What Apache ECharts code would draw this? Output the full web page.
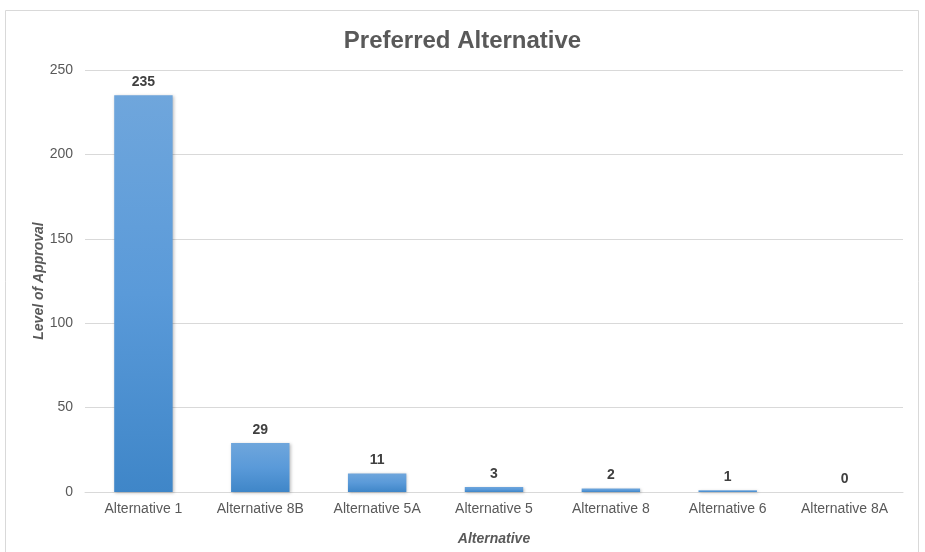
<!DOCTYPE html>
<html><head><meta charset="utf-8">
<script src="https://cdn.jsdelivr.net/npm/echarts@6/dist/echarts.min.js"></script>
<style>html,body{margin:0;padding:0;background:#fff}#c{width:925px;height:552px}</style>
</head><body><div id="c"></div>
<script>
const categories = ['Alternative 1','Alternative 8B','Alternative 5A','Alternative 5','Alternative 8','Alternative 6','Alternative 8A'];
const values = [235, 29, 11, 3, 2, 1, 0];
const yTicks = [0, 50, 100, 150, 200, 250];

const chart = echarts.init(document.getElementById('c'));
chart.setOption({
  animation: false,
  backgroundColor: '#fff',
  textStyle: { fontFamily: 'Liberation Sans, Arial, sans-serif' },
  graphic: [{ type: 'rect', shape: { x: 5.5, y: 10.5, width: 913, height: 545 }, style: { fill: 'none', stroke: '#d9d9d9', lineWidth: 1 }, silent: true }],
  title: { text: 'Preferred Alternative', left: 'center', top: 24, textStyle: { fontSize: 24, fontWeight: 'bold', color: '#595959', fontFamily: 'Liberation Sans, Arial, sans-serif' } },
  grid: { left: 85, right: 22, top: 70, bottom: 60 },
  xAxis: {
    type: 'category', data: categories,
    name: 'Alternative', nameLocation: 'middle', nameGap: 40, nameMoveOverlap: false,
    nameTextStyle: { fontStyle: 'italic', fontWeight: 'bold', fontSize: 14, color: '#595959' },
    axisLine: { lineStyle: { color: '#d9d9d9' } }, axisTick: { show: false },
    axisLabel: { color: '#595959', fontSize: 14, margin: 10 }
  },
  yAxis: {
    type: 'value', min: yTicks[0], max: yTicks[yTicks.length-1], interval: 50,
    name: 'Level of Approval', nameLocation: 'middle', nameGap: 39, nameRotate: 90, nameMoveOverlap: false,
    nameTextStyle: { fontStyle: 'italic', fontWeight: 'bold', fontSize: 14, color: '#595959' },
    axisLine: { show: false }, axisTick: { show: false },
    splitLine: { lineStyle: { color: '#d9d9d9' } },
    axisLabel: { color: '#595959', fontSize: 14, margin: 12 }
  },
  series: [{
    type: 'bar', data: values, barWidth: '50%',
    itemStyle: {
      color: new echarts.graphic.LinearGradient(0, 0, 0, 1, [
        { offset: 0, color: '#6fa6dc' }, { offset: 0.5, color: '#5a9ad9' }, { offset: 1, color: '#3f86c8' }
      ]),
      shadowColor: 'rgba(0,0,0,0.25)', shadowBlur: 3, shadowOffsetX: 1, shadowOffsetY: 1
    },
    label: { show: true, position: 'top', distance: 6, fontWeight: 'bold', fontSize: 14, color: '#404040' }
  }]
});
</script></body></html>
